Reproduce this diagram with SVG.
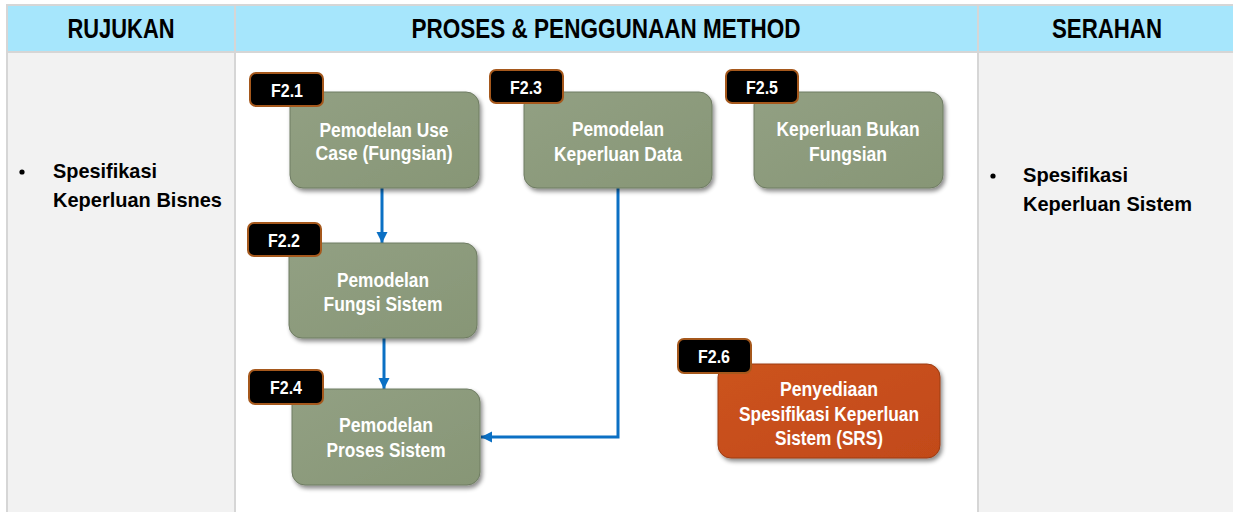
<svg xmlns="http://www.w3.org/2000/svg" width="1233" height="512" viewBox="0 0 1233 512">
<style>
.hdr{font-family:"Liberation Sans Narrow","Liberation Sans",Arial,sans-serif;font-weight:bold;font-size:27px;fill:#000;text-anchor:middle}
.side{font-family:"Liberation Sans Narrow","Liberation Sans",Arial,sans-serif;font-weight:bold;font-size:21px;fill:#000}
.node{fill:url(#gGreen);stroke:#6f7c63;stroke-width:1;filter:url(#sh)}
.nodeO{fill:url(#gOrange);stroke:#9c3c12;stroke-width:1;filter:url(#sh)}
.ntxt{font-family:"Liberation Sans Narrow","Liberation Sans",Arial,sans-serif;font-weight:bold;font-size:20px;fill:#fff;text-anchor:middle}
.tag{fill:#000;stroke:#a5581c;stroke-width:2}
.ttxt{font-family:"Liberation Sans Narrow","Liberation Sans",Arial,sans-serif;font-weight:bold;font-size:19px;fill:#fff;text-anchor:middle}
.conn{fill:none;stroke:#0b70c4;stroke-width:3;marker-end:url(#arr)}
.grid{stroke:#d6d6d6;stroke-width:2;fill:none}
</style>
<defs>
<linearGradient id="gGreen" x1="0" y1="0" x2="1" y2="1">
<stop offset="0" stop-color="#92a083"/>
<stop offset="1" stop-color="#879676"/>
</linearGradient>
<linearGradient id="gOrange" x1="0" y1="0" x2="1" y2="1">
<stop offset="0" stop-color="#cc531f"/>
<stop offset="1" stop-color="#c24a19"/>
</linearGradient>
<filter id="sh" x="-10%" y="-10%" width="125%" height="130%">
<feDropShadow dx="2" dy="3" stdDeviation="2" flood-color="#000" flood-opacity="0.45"/>
</filter>
<marker id="arr" markerWidth="12" markerHeight="12" refX="11" refY="5.5" orient="auto" markerUnits="userSpaceOnUse">
<path d="M0,0 L11,5.5 L0,11 z" fill="#0b70c4"/>
</marker>
</defs>
<rect x="0" y="0" width="1233" height="512" fill="#fff"/>
<rect x="7" y="5" width="1226" height="47" fill="#a6e6fc"/>
<rect x="7" y="52" width="228" height="460" fill="#f2f2f2"/>
<rect x="978" y="52" width="255" height="460" fill="#f2f2f2"/>
<g id="grid">
<line class="grid" x1="6" y1="5" x2="1233" y2="5"/>
<line class="grid" x1="7" y1="5" x2="7" y2="512"/>
<line class="grid" x1="7" y1="52" x2="1233" y2="52"/>
<line class="grid" x1="235" y1="5" x2="235" y2="512"/>
<line class="grid" x1="978" y1="5" x2="978" y2="512"/>
</g>
<g id="headers">
<text class="hdr" x="121" y="38" textLength="107" lengthAdjust="spacingAndGlyphs">RUJUKAN</text>
<text class="hdr" x="606" y="38" textLength="389" lengthAdjust="spacingAndGlyphs">PROSES &amp; PENGGUNAAN METHOD</text>
<text class="hdr" x="1107" y="38" textLength="110" lengthAdjust="spacingAndGlyphs">SERAHAN</text>
</g>
<g id="rujukan">
<circle cx="22" cy="172" r="2.6" fill="#000"/>
<text class="side" x="53" y="178" textLength="104" lengthAdjust="spacingAndGlyphs">Spesifikasi</text>
<text class="side" x="53" y="207" textLength="169" lengthAdjust="spacingAndGlyphs">Keperluan Bisnes</text>
</g>
<g id="serahan">
<circle cx="993" cy="176" r="2.6" fill="#000"/>
<text class="side" x="1023" y="182" textLength="105" lengthAdjust="spacingAndGlyphs">Spesifikasi</text>
<text class="side" x="1023" y="211" textLength="169" lengthAdjust="spacingAndGlyphs">Keperluan Sistem</text>
</g>
<g id="connectors">
<line class="conn" x1="382" y1="188" x2="382" y2="243"/>
<line class="conn" x1="384" y1="338" x2="384" y2="389"/>
<polyline class="conn" points="618,188 618,437 481,437"/>
</g>
<g id="F2.1">
<rect class="node" x="290" y="92" width="189" height="96" rx="13"/>
<text class="ntxt" x="384" y="137" textLength="129" lengthAdjust="spacingAndGlyphs">Pemodelan Use</text>
<text class="ntxt" x="384" y="160" textLength="137" lengthAdjust="spacingAndGlyphs">Case (Fungsian)</text>
<rect class="tag" x="250" y="73" width="73" height="33" rx="6"/>
<text class="ttxt" x="287" y="97" textLength="32" lengthAdjust="spacingAndGlyphs">F2.1</text>
</g>
<g id="F2.3">
<rect class="node" x="524" y="92" width="188" height="96" rx="13"/>
<text class="ntxt" x="618" y="136" textLength="92" lengthAdjust="spacingAndGlyphs">Pemodelan</text>
<text class="ntxt" x="618" y="161" textLength="128" lengthAdjust="spacingAndGlyphs">Keperluan Data</text>
<rect class="tag" x="490" y="70" width="73" height="33" rx="6"/>
<text class="ttxt" x="526" y="94" textLength="32" lengthAdjust="spacingAndGlyphs">F2.3</text>
</g>
<g id="F2.5">
<rect class="node" x="754" y="92" width="189" height="96" rx="13"/>
<text class="ntxt" x="848" y="136" textLength="143" lengthAdjust="spacingAndGlyphs">Keperluan Bukan</text>
<text class="ntxt" x="848" y="161" textLength="78" lengthAdjust="spacingAndGlyphs">Fungsian</text>
<rect class="tag" x="726" y="70" width="72" height="33" rx="6"/>
<text class="ttxt" x="762" y="94" textLength="32" lengthAdjust="spacingAndGlyphs">F2.5</text>
</g>
<g id="F2.2">
<rect class="node" x="289" y="243" width="188" height="95" rx="13"/>
<text class="ntxt" x="383" y="287" textLength="92" lengthAdjust="spacingAndGlyphs">Pemodelan</text>
<text class="ntxt" x="383" y="311" textLength="119" lengthAdjust="spacingAndGlyphs">Fungsi Sistem</text>
<rect class="tag" x="248" y="223" width="73" height="33" rx="6"/>
<text class="ttxt" x="284" y="247" textLength="32" lengthAdjust="spacingAndGlyphs">F2.2</text>
</g>
<g id="F2.4">
<rect class="node" x="292" y="389" width="188" height="96" rx="13"/>
<text class="ntxt" x="386" y="432" textLength="94" lengthAdjust="spacingAndGlyphs">Pemodelan</text>
<text class="ntxt" x="386" y="457" textLength="119" lengthAdjust="spacingAndGlyphs">Proses Sistem</text>
<rect class="tag" x="249" y="370" width="74" height="34" rx="6"/>
<text class="ttxt" x="286" y="394" textLength="32" lengthAdjust="spacingAndGlyphs">F2.4</text>
</g>
<g id="F2.6">
<rect class="nodeO" x="718" y="364" width="222" height="94" rx="13"/>
<text class="ntxt" x="829" y="396" textLength="98" lengthAdjust="spacingAndGlyphs">Penyediaan</text>
<text class="ntxt" x="829" y="421" textLength="180" lengthAdjust="spacingAndGlyphs">Spesifikasi Keperluan</text>
<text class="ntxt" x="829" y="445" textLength="108" lengthAdjust="spacingAndGlyphs">Sistem (SRS)</text>
<rect class="tag" x="678" y="339" width="73" height="34" rx="6"/>
<text class="ttxt" x="714" y="363" textLength="32" lengthAdjust="spacingAndGlyphs">F2.6</text>
</g>
</svg>
